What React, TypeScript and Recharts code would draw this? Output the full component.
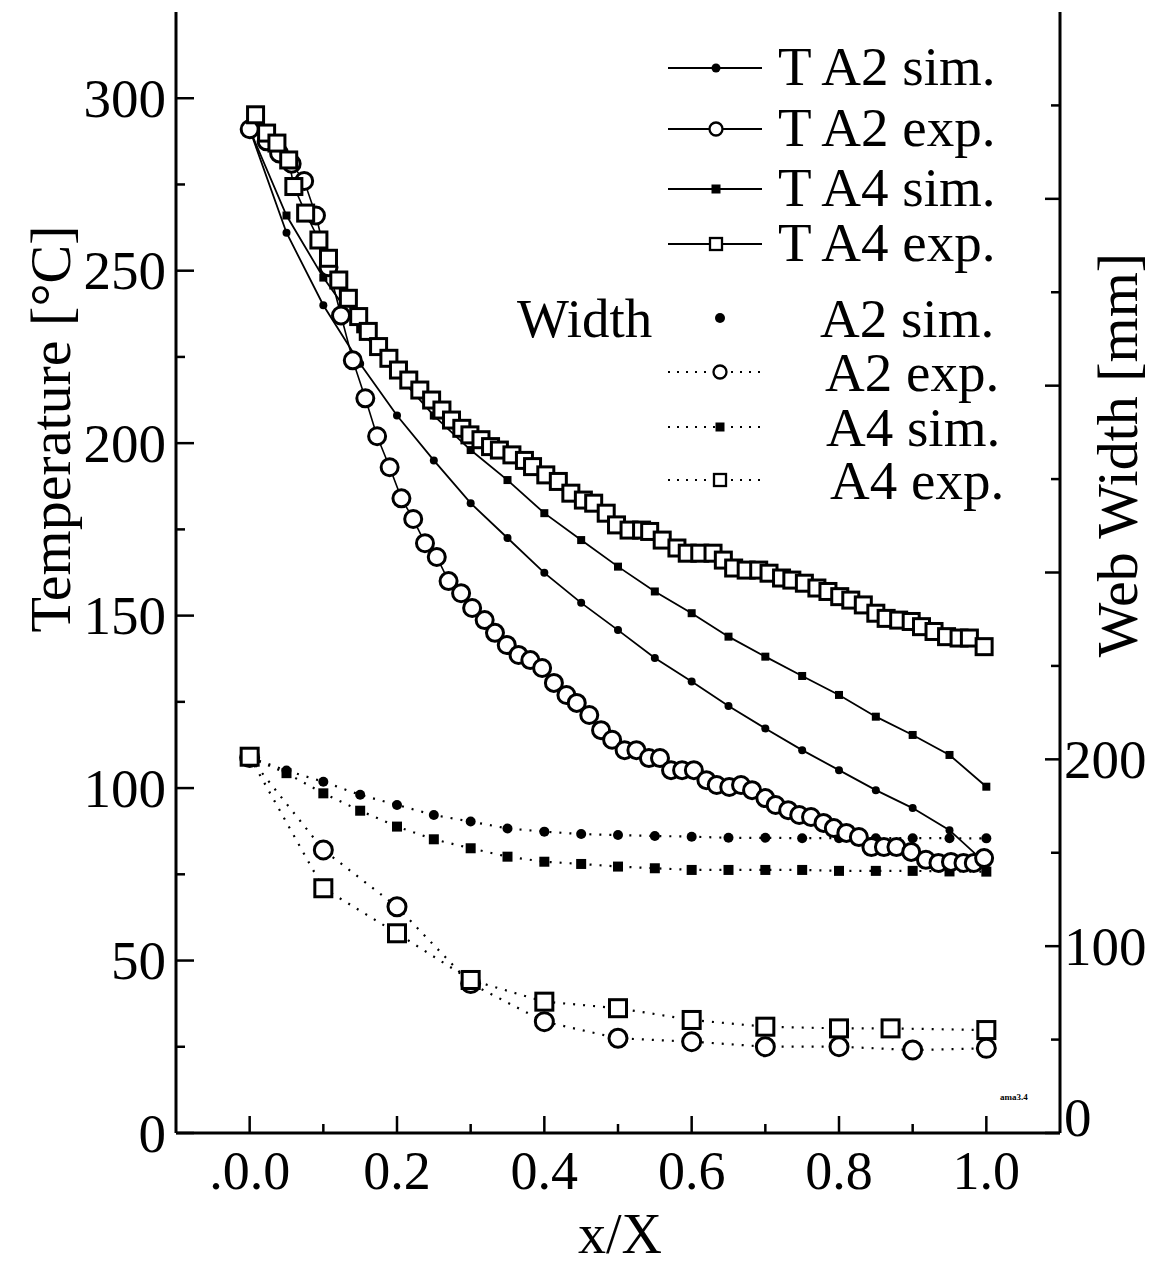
import React from 'react';
import { ComposedChart, Line, XAxis, YAxis } from 'recharts';

const FONT = '"Liberation Serif", "Times New Roman", serif';

// simulation stations along x/X
const xSim = [0, 0.05, 0.1, 0.15, 0.2, 0.25, 0.3, 0.35, 0.4, 0.45, 0.5, 0.55, 0.6, 0.65, 0.7, 0.75, 0.8, 0.85, 0.9, 0.95, 1.0];
const tA2Sim = [291, 261, 240, 223, 208, 195, 182.6, 172.5, 162.4, 153.7, 145.8, 137.7, 130.9, 123.8, 117.3, 111, 105.2, 99.4, 94.2, 87.8, 78];
const tA4Sim = [291, 266, 248, 233, 220, 208, 198, 189.3, 179.7, 171.9, 164.2, 157, 150.7, 143.9, 138.1, 132.5, 127, 120.7, 115.4, 109.6, 100.4];

const xA2Exp = [0, 0.023, 0.04, 0.057, 0.074, 0.09, 0.107, 0.124, 0.14, 0.157, 0.173, 0.19, 0.206, 0.222, 0.238, 0.254, 0.27, 0.287, 0.302, 0.319, 0.333, 0.349, 0.365, 0.381, 0.397, 0.413, 0.43, 0.444, 0.461, 0.477, 0.492, 0.509, 0.525, 0.542, 0.557, 0.572, 0.587, 0.603, 0.62, 0.634, 0.651, 0.667, 0.682, 0.7, 0.714, 0.731, 0.746, 0.762, 0.779, 0.793, 0.81, 0.827, 0.844, 0.861, 0.878, 0.898, 0.918, 0.935, 0.952, 0.969, 0.983, 0.997];
const tA2Exp = [291, 287.5, 284, 281, 276, 266, 251, 237, 224, 213, 202, 193, 184, 178, 171, 167, 160, 156.5, 152.2, 148.7, 145, 141.5, 138.6, 137.1, 134.8, 130.5, 127, 124.7, 121.2, 116.8, 114, 111, 111, 108.7, 108.7, 105.2, 105.2, 105.2, 102.3, 100.9, 100.3, 100.9, 99.4, 97.1, 95.1, 93.6, 92.2, 91.6, 89.9, 88.4, 87, 85.8, 82.9, 82.9, 82.9, 81.5, 79.2, 78.3, 78.6, 78.3, 78.3, 79.7];

const xA4Exp = [0.008, 0.023, 0.037, 0.053, 0.06, 0.076, 0.094, 0.107, 0.121, 0.134, 0.148, 0.161, 0.175, 0.189, 0.202, 0.216, 0.231, 0.247, 0.261, 0.274, 0.288, 0.299, 0.314, 0.327, 0.339, 0.356, 0.373, 0.384, 0.402, 0.419, 0.436, 0.453, 0.467, 0.484, 0.498, 0.515, 0.532, 0.543, 0.56, 0.58, 0.594, 0.611, 0.629, 0.643, 0.657, 0.674, 0.691, 0.705, 0.722, 0.736, 0.753, 0.77, 0.785, 0.801, 0.816, 0.833, 0.85, 0.864, 0.881, 0.898, 0.912, 0.929, 0.946, 0.963, 0.977, 0.997];
const tA4Exp = [295.2, 289.9, 287, 282.1, 274.4, 266.7, 258.9, 253.6, 247.3, 242, 236.7, 232.4, 228, 224.6, 221.2, 218.3, 215.4, 212.5, 209.6, 206.7, 204.3, 202.4, 201, 199, 198, 196.6, 195, 193.2, 190.8, 188.9, 185.5, 183.5, 182.6, 179.7, 176.3, 174.8, 174.8, 174.4, 171.9, 169.6, 168.1, 168.1, 168.1, 166.1, 163.8, 163.2, 163.2, 162.3, 160.9, 160.3, 159.4, 158, 157, 155.5, 154.5, 153.1, 150.7, 149.2, 148.7, 148.3, 146.8, 145.4, 143.9, 143.5, 143.5, 141];

// web width [mm]
const wA2Sim = [201, 194, 188, 181, 175.6, 170.2, 166.7, 163, 161.3, 160, 159.5, 159, 158.6, 158, 158, 157.8, 157.8, 157.8, 157.8, 157.8, 157.7];
const wA4Sim = [201, 192.6, 181.8, 172.5, 164, 157.2, 152.4, 147.9, 145.2, 144, 142.6, 141.7, 140.8, 140.8, 140.8, 140.8, 140.3, 140.3, 140.3, 140, 139.9];
const xWA2Exp = [0, 0.1, 0.2, 0.3, 0.4, 0.5, 0.6, 0.7, 0.8, 0.9, 1.0];
const wA2Exp = [201, 151.5, 121.1, 80, 59.6, 50.7, 48.9, 46.2, 46.2, 44.4, 45.3];
const xWA4Exp = [0, 0.1, 0.2, 0.3, 0.4, 0.5, 0.6, 0.7, 0.8, 0.87, 1.0];
const wA4Exp = [201.4, 131, 106.9, 81.9, 70.3, 66.8, 60.5, 56.9, 56, 56, 55.1];

const xTicks = [0, 0.1, 0.2, 0.3, 0.4, 0.5, 0.6, 0.7, 0.8, 0.9, 1.0];
const xTickLabels = ['.0.0', '', '0.2', '', '0.4', '', '0.6', '', '0.8', '', '1.0'];
const tTicks = [0, 25, 50, 75, 100, 125, 150, 175, 200, 225, 250, 275, 300];
const wTicks = [0, 50, 100, 150, 200, 250, 300, 350, 400, 450, 500, 550];
const wLabelled = [0, 100, 200];

const pts = (xs: number[], ys: number[]) => xs.map((x, i) => ({ x, y: ys[i] }));

const filledCircle = (r: number, tag: string) => (p: any) =>
  p.cx == null ? <g key={`${tag}-${p.index}`} /> : <circle key={`${tag}-${p.index}`} cx={p.cx} cy={p.cy} r={r} fill="#000" />;
const filledSquare = (s: number, tag: string) => (p: any) =>
  p.cx == null ? <g key={`${tag}-${p.index}`} /> : <rect key={`${tag}-${p.index}`} x={p.cx - s / 2} y={p.cy - s / 2} width={s} height={s} fill="#000" />;
const openCircle = (r: number, tag: string) => (p: any) =>
  p.cx == null ? <g key={`${tag}-${p.index}`} /> : <circle key={`${tag}-${p.index}`} cx={p.cx} cy={p.cy} r={r} fill="#fff" stroke="#000" strokeWidth={3} />;
const openSquare = (s: number, tag: string) => (p: any) =>
  p.cx == null ? <g key={`${tag}-${p.index}`} /> : <rect key={`${tag}-${p.index}`} x={p.cx - s / 2} y={p.cy - s / 2} width={s} height={s} fill="#fff" stroke="#000" strokeWidth={3} />;

const BottomTick = (props: any) => {
  const { x, y, index } = props;
  const label = xTickLabels[index];
  const major = label !== '';
  return (
    <g>
      <line x1={x} y1={y} x2={x} y2={y - (major ? 17 : 9)} stroke="#000" strokeWidth={2.5} />
      {major && (
        <text x={x} y={y + 38} textAnchor="middle" dominantBaseline="central" fontFamily={FONT} fontSize={54} fill="#000">
          {label}
        </text>
      )}
    </g>
  );
};

const TopTick = (props: any) => {
  const { x, y, index } = props;
  const major = xTickLabels[index] !== '';
  return <line x1={x} y1={y} x2={x} y2={y + (major ? 17 : 9)} stroke="#000" strokeWidth={2.5} />;
};

const LeftTick = (props: any) => {
  const { x, y, payload } = props;
  const major = payload.value % 50 === 0;
  return (
    <g>
      <line x1={x} y1={y} x2={x + (major ? 18 : 9)} y2={y} stroke="#000" strokeWidth={2.5} />
      {major && (
        <text x={x - 10} y={y} textAnchor="end" dominantBaseline="central" fontFamily={FONT} fontSize={55} fill="#000">
          {payload.value}
        </text>
      )}
    </g>
  );
};

const RightTick = (props: any) => {
  const { x, y, payload } = props;
  const major = payload.value % 100 === 0;
  const show = wLabelled.includes(payload.value);
  return (
    <g>
      <line x1={x} y1={y} x2={x - (major ? 15 : 9)} y2={y} stroke="#000" strokeWidth={2.5} />
      {show && (
        <text x={x + 4} y={payload.value === 0 ? y - 16 : y} textAnchor="start" dominantBaseline="central" fontFamily={FONT} fontSize={55} fill="#000">
          {payload.value}
        </text>
      )}
    </g>
  );
};

const textStyle = { fontFamily: FONT, fill: '#000' };

function LegendOverlay() {
  const tRows = [
    { y: 66, label: 'T A2 sim.', mark: 'fc' },
    { y: 127, label: 'T A2 exp.', mark: 'oc' },
    { y: 187, label: 'T A4 sim.', mark: 'fs' },
    { y: 242, label: 'T A4 exp.', mark: 'os' },
  ];
  const wRows = [
    { y: 318, label: 'A2 sim.', mark: 'fc', tx: 820, line: false },
    { y: 372, label: 'A2 exp.', mark: 'oc', tx: 825, line: true },
    { y: 427, label: 'A4 sim.', mark: 'fs', tx: 826, line: true },
    { y: 480, label: 'A4 exp.', mark: 'os', tx: 830, line: true },
  ];
  const mark = (m: string, cx: number, cy: number, big: boolean) => {
    if (m === 'fc') return <circle cx={cx} cy={cy} r={big ? 5 : 4.5} fill="#000" />;
    if (m === 'fs') return <rect x={cx - 4.5} y={cy - 4.5} width={9} height={9} fill="#000" />;
    if (m === 'oc') return <circle cx={cx} cy={cy} r={6.5} fill="#fff" stroke="#000" strokeWidth={2.3} />;
    return <rect x={cx - 6} y={cy - 6} width={12} height={12} fill="#fff" stroke="#000" strokeWidth={2.3} />;
  };
  return (
    <svg width={1162} height={1266} style={{ position: 'absolute', left: 0, top: 0, pointerEvents: 'none' }}>
      {tRows.map((r) => (
        <g key={r.label}>
          <line x1={668} y1={r.y + 2} x2={762} y2={r.y + 2} stroke="#000" strokeWidth={1.8} />
          {mark(r.mark, 716, r.y + 2, false)}
          <text x={778} y={r.y} dominantBaseline="central" fontSize={55} {...textStyle}>{r.label}</text>
        </g>
      ))}
      <text x={517} y={318} dominantBaseline="central" fontSize={55} {...textStyle}>Width</text>
      {wRows.map((r) => (
        <g key={r.label}>
          {r.line && <line x1={668} y1={r.y} x2={764} y2={r.y} stroke="#000" strokeWidth={2} strokeDasharray="2 7" />}
          {mark(r.mark, 720, r.y, true)}
          <text x={r.tx} y={r.y} dominantBaseline="central" fontSize={55} {...textStyle}>{r.label}</text>
        </g>
      ))}
      <text x={1000} y={1100} fontSize={9} fontWeight="bold" {...textStyle}>ama3.4</text>
    </svg>
  );
}

export default function App() {
  const axisLine = { stroke: '#000', strokeWidth: 3 };
  return (
    <div style={{ position: 'absolute', left: 0, top: 0, width: 1162, height: 1266, background: '#fff' }}>
      <ComposedChart width={1162} height={1266} margin={{ top: 12, right: 0, bottom: 0, left: 0 }}>
        <XAxis
          xAxisId="b"
          type="number"
          dataKey="x"
          domain={[-0.1, 1.1]}
          ticks={xTicks}
          interval={0}
          allowDataOverflow
          height={133}
          axisLine={axisLine}
          tickLine={false}
          tickSize={0}
          tickMargin={0}
          tick={<BottomTick />}
          label={{
            content: () => (
              <text x={620} y={1234} textAnchor="middle" dominantBaseline="central" fontSize={56} {...textStyle}>x/X</text>
            ),
          }}
        />
        <XAxis
          xAxisId="t"
          orientation="top"
          type="number"
          dataKey="x"
          domain={[-0.1, 1.1]}
          ticks={xTicks}
          interval={0}
          allowDataOverflow
          height={0}
          axisLine={axisLine}
          tickLine={false}
          tickSize={0}
          tickMargin={0}
          tick={<TopTick />}
        />
        <YAxis
          yAxisId="T"
          orientation="left"
          type="number"
          domain={[0, 325]}
          ticks={tTicks}
          interval={0}
          allowDataOverflow
          width={176}
          axisLine={axisLine}
          tickLine={false}
          tickSize={0}
          tickMargin={0}
          tick={<LeftTick />}
          label={{
            content: () => (
              <text x={50} y={429} transform="rotate(-90 50 429)" textAnchor="middle" dominantBaseline="central" fontSize={58} {...textStyle}>
                Temperature [°C]
              </text>
            ),
          }}
        />
        <YAxis
          yAxisId="W"
          orientation="right"
          type="number"
          domain={[0, 600]}
          ticks={wTicks}
          interval={0}
          allowDataOverflow
          width={102}
          axisLine={axisLine}
          tickLine={false}
          tickSize={0}
          tickMargin={0}
          tick={<RightTick />}
          label={{
            content: () => (
              <text x={1117} y={455} transform="rotate(-90 1117 455)" textAnchor="middle" dominantBaseline="central" fontSize={58} {...textStyle}>
                Web Width [mm]
              </text>
            ),
          }}
        />

        <Line xAxisId="b" yAxisId="W" data={pts(xSim, wA2Sim)} dataKey="y" stroke="#000" strokeWidth={2.2} strokeDasharray="2 8" dot={filledCircle(5, 'wa2s')} isAnimationActive={false} />
        <Line xAxisId="b" yAxisId="W" data={pts(xSim, wA4Sim)} dataKey="y" stroke="#000" strokeWidth={2.2} strokeDasharray="2 8" dot={filledSquare(10, 'wa4s')} isAnimationActive={false} />
        <Line xAxisId="b" yAxisId="W" data={pts(xWA2Exp, wA2Exp)} dataKey="y" stroke="#000" strokeWidth={2.2} strokeDasharray="2 8" dot={openCircle(9, 'wa2e')} isAnimationActive={false} />
        <Line xAxisId="b" yAxisId="W" data={pts(xWA4Exp, wA4Exp)} dataKey="y" stroke="#000" strokeWidth={2.2} strokeDasharray="2 8" dot={openSquare(17, 'wa4e')} isAnimationActive={false} />

        <Line xAxisId="b" yAxisId="T" data={pts(xSim, tA2Sim)} dataKey="y" stroke="#000" strokeWidth={1.8} dot={filledCircle(4, 'ta2s')} isAnimationActive={false} />
        <Line xAxisId="b" yAxisId="T" data={pts(xSim, tA4Sim)} dataKey="y" stroke="#000" strokeWidth={1.8} dot={filledSquare(8, 'ta4s')} isAnimationActive={false} />
        <Line xAxisId="b" yAxisId="T" data={pts(xA2Exp, tA2Exp)} dataKey="y" stroke="#000" strokeWidth={1.6} dot={openCircle(8.5, 'ta2e')} isAnimationActive={false} />
        <Line xAxisId="b" yAxisId="T" data={pts(xA4Exp, tA4Exp)} dataKey="y" stroke="#000" strokeWidth={1.6} dot={openSquare(16, 'ta4e')} isAnimationActive={false} />
      </ComposedChart>
      <LegendOverlay />
    </div>
  );
}
